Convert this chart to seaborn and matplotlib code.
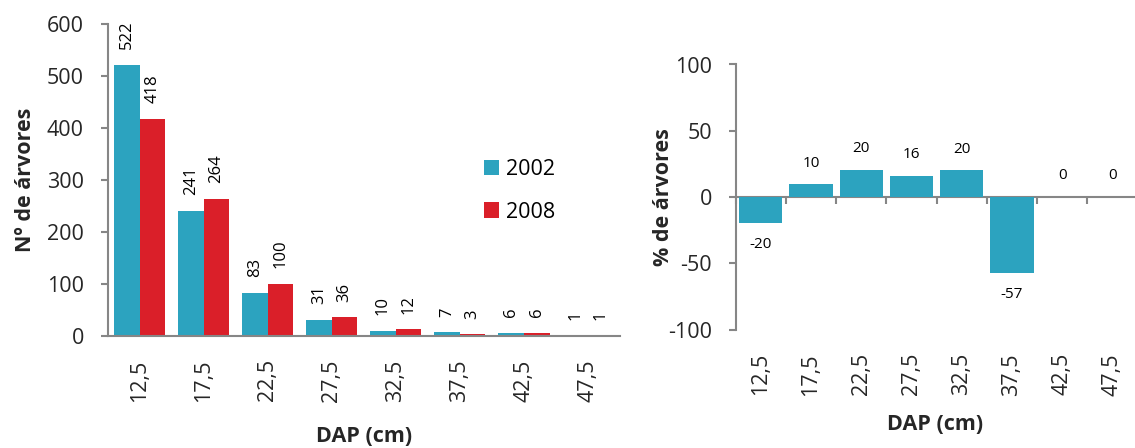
import numpy as np
import pandas as pd
import matplotlib
matplotlib.use("Agg")
import matplotlib.pyplot as plt
import seaborn as sns

# ---- data ----
dap = ["12,5", "17,5", "22,5", "27,5", "32,5", "37,5", "42,5", "47,5"]
n_2002 = [522, 241, 83, 31, 10, 7, 6, 1]
n_2008 = [418, 264, 100, 36, 12, 3, 6, 1]
years = ["2002", "2008"]
pct_change = [-19.9, 9.5, 20.5, 16.1, 20.0, -57.1, 0.0, 0.0]

teal = "#2CA3BF"
red = "#DA1F29"
gray = "#868686"

sns.set_style("white")
plt.rcParams["font.family"] = ["Open Sans", "DejaVu Sans"]
plt.rcParams["text.color"] = "black"
plt.rcParams["axes.unicode_minus"] = False

fig = plt.figure(figsize=(11.35, 4.48), dpi=100)
W, H = 1135, 448

def px_axes(x0, y_top, x1, y_bot):
    return fig.add_axes([x0 / W, 1 - y_bot / H, (x1 - x0) / W, (y_bot - y_top) / H])

TICK_FS = 15.5
VAL1_FS = 12
VAL2_FS = 11
LAB_FS = 15.5

# ---------- left chart ----------
ax1 = px_axes(107.5, 24, 620, 335.7)
df = pd.DataFrame({
    "DAP": dap * 2,
    "n": n_2002 + n_2008,
    "Ano": [years[0]] * len(dap) + [years[1]] * len(dap),
})
sns.barplot(data=df, x="DAP", y="n", hue="Ano", palette=[teal, red],
            width=0.8, saturation=1, linewidth=0, ax=ax1, order=dap, hue_order=years)
ax1.set_xlim(-0.5, len(dap) - 0.5)
ax1.set_ylim(0, 600)
ax1.set_yticks(range(0, 601, 100))
for c in ax1.containers:
    ax1.bar_label(c, rotation=90, padding=11, fontsize=VAL1_FS)

for s in ["top", "right"]:
    ax1.spines[s].set_visible(False)
for s in ["left", "bottom"]:
    ax1.spines[s].set_color(gray)
    ax1.spines[s].set_linewidth(1.5)
ax1.set_xticks(np.arange(-0.5, len(dap), 1), minor=True)
ax1.tick_params(axis="x", which="major", length=0, pad=17, labelsize=TICK_FS, labelrotation=90)
ax1.tick_params(axis="x", which="minor", length=5, width=1.5, color=gray, direction="out")
ax1.tick_params(axis="y", which="major", length=5, width=1.5, color=gray, direction="out",
                pad=12, labelsize=TICK_FS, left=True)
ax1.set_xlabel("DAP (cm)", fontsize=LAB_FS, fontweight="bold")
ax1.set_ylabel("Nº de árvores", fontsize=LAB_FS, fontweight="bold")
ax1.xaxis.set_label_coords(0.5, -0.29)
ax1.yaxis.set_label_coords(-0.14, 0.5)
leg = ax1.legend(loc="upper left", bbox_to_anchor=(484 / W, 1 - 159 / H),
                 bbox_transform=fig.transFigure, frameon=False, fontsize=TICK_FS,
                 handlelength=0.7, handleheight=0.7, handletextpad=0.33,
                 labelspacing=1.0, borderpad=0, borderaxespad=0, title=None)

# ---------- right chart ----------
ax2 = px_axes(735.7, 64.5, 1135, 329.5)
sns.barplot(x=dap, y=pct_change, color=teal, width=0.86, saturation=1,
            linewidth=0, ax=ax2, order=dap)
ax2.set_xlim(-0.5, 7.45)
ax2.set_ylim(-100, 100)
ax2.set_yticks([-100, -50, 0, 50, 100])
for c in ax2.containers:
    ax2.bar_label(c, fmt="%.0f", padding=10, fontsize=VAL2_FS)
for s in ["top", "right", "bottom"]:
    ax2.spines[s].set_visible(False)
ax2.spines["left"].set_color(gray)
ax2.spines["left"].set_linewidth(1.5)
ax2.tick_params(axis="x", which="major", length=0, pad=17, labelsize=TICK_FS, labelrotation=90)
ax2.tick_params(axis="y", which="major", length=5, width=1.5, color=gray, direction="out",
                pad=12, labelsize=TICK_FS, left=True)
# zero line with category-boundary ticks
sec = ax2.secondary_xaxis(0.5)
sec.set_alignment("bottom")
sec.spines["bottom"].set_color(gray)
sec.spines["bottom"].set_linewidth(1.5)
sec.set_xticks([])
sec.set_xticks(np.arange(-0.5, len(dap), 1), minor=True)
sec.tick_params(axis="x", which="minor", length=5, width=1.5, color=gray, direction="out")
ax2.set_xlabel("DAP (cm)", fontsize=LAB_FS, fontweight="bold")
ax2.set_ylabel("% de árvores", fontsize=LAB_FS, fontweight="bold")
ax2.xaxis.set_label_coords(0.5, -0.32)
ax2.yaxis.set_label_coords(-0.155, 0.5)

fig.savefig("out.png", dpi=100)
